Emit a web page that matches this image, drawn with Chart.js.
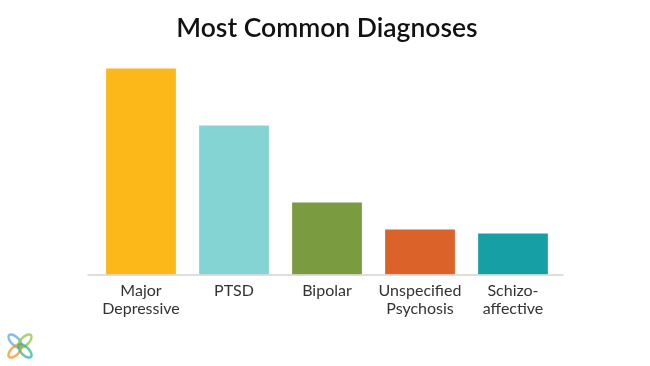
<!DOCTYPE html>
<html>
<head>
<meta charset="utf-8">
<script src="https://cdn.jsdelivr.net/npm/chart.js@4"></script>
<style>
  html, body { margin: 0; padding: 0; background: #fff; }
  #wrap { width: 650px; height: 366px; position: relative; }
</style>
</head>
<body>
<div id="wrap"><canvas id="diagChart"></canvas></div>
<script>
const categories = [['Major', 'Depressive'], 'PTSD', 'Bipolar', ['Unspecified', 'Psychosis'], ['Schizo-', 'affective']];
const counts = [206, 149, 72, 45, 41];
const barColors = ['#FCB719', '#84D4D4', '#7A9B3F', '#DB6229', '#179FA6'];

// baseline drawn a bit wider than the bars, like the slide
const baseline = {
    id: 'baseline',
    afterDatasetsDraw(chart) {
        const ctx = chart.ctx, a = chart.chartArea;
        ctx.save();
        ctx.strokeStyle = '#BDBDBD';
        ctx.lineWidth = 1.2;
        ctx.beginPath();
        ctx.moveTo(a.left - 7, a.bottom + 0.5);
        ctx.lineTo(a.right + 4, a.bottom + 0.5);
        ctx.stroke();
        ctx.restore();
    }
};

// little petal logo in the corner
const logo = {
    id: 'logo',
    afterDraw(chart) {
        const ctx = chart.ctx;
        const cx = 20, cy = 346;
        const petals = [
            { a: -3 * Math.PI / 4, c: 'rgba(86,170,224,0.75)' },
            { a: -Math.PI / 4, c: 'rgba(141,198,63,0.75)' },
            { a: 3 * Math.PI / 4, c: 'rgba(247,148,29,0.75)' },
            { a: Math.PI / 4, c: 'rgba(52,180,150,0.75)' }
        ];
        ctx.save();
        ctx.lineWidth = 2.5;
        petals.forEach(p => {
            ctx.save();
            ctx.translate(cx + Math.cos(p.a) * 7, cy + Math.sin(p.a) * 7);
            ctx.rotate(p.a);
            ctx.strokeStyle = p.c;
            ctx.beginPath();
            ctx.ellipse(0, 0, 8.5, 4, 0, 0, Math.PI * 2);
            ctx.stroke();
            ctx.restore();
        });
        ctx.restore();
    }
};

new Chart(document.getElementById('diagChart'), {
    type: 'bar',
    data: {
        labels: categories,
        datasets: [{
            data: counts,
            backgroundColor: barColors,
            borderWidth: 0,
            barPercentage: 0.75,
            categoryPercentage: 1
        }]
    },
    options: {
        responsive: true,
        maintainAspectRatio: false,
        animation: false,
        layout: {
            padding: { left: 94.5, right: 90.5, top: 0, bottom: 0 }
        },
        plugins: {
            legend: { display: false },
            tooltip: { enabled: false },
            title: {
                display: true,
                text: 'Most Common Diagnoses',
                color: '#111',
                font: { family: 'Lato', size: 26.5, weight: '600', lineHeight: 1.2 },
                padding: { top: 13, bottom: 9.7 }
            }
        },
        scales: {
            x: {
                grid: { display: false },
                border: { display: false },
                ticks: {
                    color: '#333',
                    font: { family: 'Lato', size: 16, lineHeight: 1.08 },
                    padding: 0,
                    maxRotation: 0,
                    autoSkip: false
                },
                afterFit(scale) { scale.height = 91.5; }
            },
            y: {
                display: false,
                min: 0,
                max: 220
            }
        }
    },
    plugins: [baseline, logo]
});
</script>
</body>
</html>
